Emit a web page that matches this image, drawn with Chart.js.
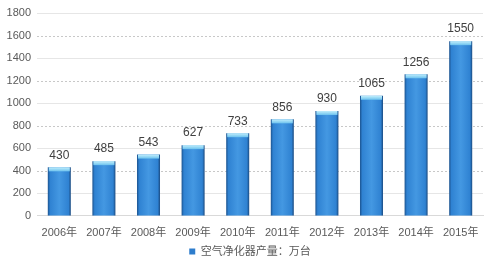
<!DOCTYPE html>
<html>
<head>
<meta charset="utf-8">
<script src="https://cdn.jsdelivr.net/npm/chart.js@4/dist/chart.umd.min.js"></script>
<style>
  html, body { margin: 0; padding: 0; background: #fff; }
  #wrap { width: 488px; height: 259px; }
</style>
</head>
<body>
<div id="wrap"><canvas id="chart"></canvas></div>
<script>
var years = ["2006年", "2007年", "2008年", "2009年", "2010年", "2011年", "2012年", "2013年", "2014年", "2015年"];
var output = [430, 485, 543, 627, 733, 856, 930, 1065, 1256, 1550];
var seriesName = "空气净化器产量：万台";
var yMax = 1800;
var yStep = 200;

var FONT = "'Liberation Sans', 'Noto Sans CJK SC', sans-serif";

// gridlines: solid and dotted ones take turns, like the original
var gridLines = {
  id: "gridLines",
  beforeDatasetsDraw: function (chart) {
    var c = chart.ctx;
    var y = chart.scales.y;
    var area = chart.chartArea;
    c.save();
    c.lineWidth = 1;
    for (var v = yStep; v <= yMax; v += yStep) {
      var py = Math.round(y.getPixelForValue(v)) + 0.5;
      if ((v / yStep) % 2 === 0) {
        c.strokeStyle = "#c8c8c8";
        c.setLineDash([2, 2]);
      } else {
        c.strokeStyle = "#e6e6e6";
        c.setLineDash([]);
      }
      c.beginPath();
      c.moveTo(area.left, py);
      c.lineTo(area.right, py);
      c.stroke();
    }
    c.restore();
  }
};

// each bar gets its own gradient (dark edges, lighter middle), then a light cap and the value
var barLook = {
  id: "barLook",
  beforeDatasetsDraw: function (chart) {
    var c = chart.ctx;
    var meta = chart.getDatasetMeta(0);
    for (var i = 0; i < meta.data.length; i++) {
      var bar = meta.data[i];
      var x0 = bar.x - bar.width / 2;
      var g = c.createLinearGradient(x0, 0, x0 + bar.width, 0);
      g.addColorStop(0, "#1b528e");
      g.addColorStop(0.1, "#2f82d2");
      g.addColorStop(0.5, "#4498e2");
      g.addColorStop(0.9, "#2f82d2");
      g.addColorStop(1, "#1a4a80");
      bar.options = Object.assign({}, bar.options, { backgroundColor: g });
    }
  },
  afterDatasetsDraw: function (chart) {
    var c = chart.ctx;
    var meta = chart.getDatasetMeta(0);
    c.save();
    c.font = "12px " + FONT;
    c.textAlign = "center";
    c.textBaseline = "bottom";
    for (var i = 0; i < meta.data.length; i++) {
      var bar = meta.data[i];
      var x0 = bar.x - bar.width / 2;
      var cap = c.createLinearGradient(0, bar.y, 0, bar.y + 4);
      cap.addColorStop(0, "#c2effc");
      cap.addColorStop(1, "#6cc2ee");
      c.fillStyle = cap;
      c.fillRect(x0 + 1, bar.y, bar.width - 2, 4);
      c.fillStyle = "#404040";
      c.fillText(String(output[i]), bar.x, bar.y - 6);
    }
    c.restore();
  }
};

// the original legend sits a little right of the page centre
var legendNudge = {
  id: "legendNudge",
  afterLayout: function (chart) {
    if (chart.legend) {
      chart.legend.left += 8;
      chart.legend.right += 8;
    }
  }
};

new Chart(document.getElementById("chart"), {
  type: "bar",
  data: {
    labels: years,
    datasets: [{
      label: seriesName,
      data: output,
      backgroundColor: "#2e7dcc",
      categoryPercentage: 0.516,
      barPercentage: 1
    }]
  },
  options: {
    responsive: true,
    maintainAspectRatio: false,
    animation: false,
    layout: { padding: { left: 1, right: 5, top: 13, bottom: -8 } },
    plugins: {
      legend: {
        position: "bottom",
        labels: {
          boxWidth: 6,
          boxHeight: 6,
          color: "#595959",
          font: { family: FONT, size: 11 },
          padding: 3
        }
      },
      tooltip: { enabled: false }
    },
    scales: {
      x: {
        grid: { display: false },
        border: { color: "#d9d9d9" },
        ticks: { color: "#595959", font: { family: FONT, size: 11 }, maxRotation: 0, padding: 3 }
      },
      y: {
        min: 0,
        max: yMax,
        afterFit: function (scale) { scale.width = 36; },
        ticks: {
          stepSize: yStep,
          color: "#595959",
          font: { family: FONT, size: 11 },
          padding: 6,
          callback: function (v) { return String(v); }
        },
        border: { display: false },
        grid: { display: false, drawTicks: false }
      }
    }
  },
  plugins: [gridLines, barLook, legendNudge]
});
</script>
</body>
</html>
